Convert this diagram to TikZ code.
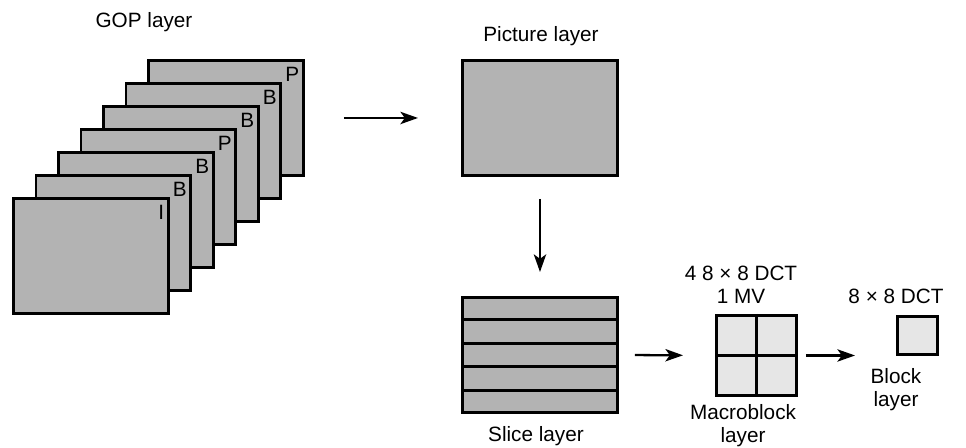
\documentclass[tikz,border=0pt]{standalone}
\usepackage{fontspec}
\setmainfont{Liberation Sans}
\usepackage{tikz}
\usetikzlibrary{arrows.meta, positioning, calc}
\definecolor{framegray}{RGB}{179, 179, 179}
\definecolor{mbgray}{RGB}{230, 230, 230}

\begin{document}
\begin{tikzpicture}[x=0.02cm, y=-0.02cm,
        every node/.style={font=\fontsize{11.8}{13.2}\selectfont},
        frame/.style={rectangle, draw=black, line width=1.7pt, fill=framegray, minimum width=3.1cm, minimum height=2.3cm, inner sep=0pt},
        mblock/.style={rectangle, draw=black, line width=1.7pt, fill=mbgray, inner sep=0pt},
        tag/.style={anchor=north east, inner sep=0pt, xshift=-0.11cm, yshift=-0.16cm},
        caption/.style={anchor=base, align=center, inner sep=0pt},
        arrow/.style={-{Stealth[length=10pt, width=7pt, inset=2.5pt]}, line width=1.3pt}
    ]
        \useasboundingbox (0,0) rectangle (966,448);
        % GOP stack, back frame first
        \foreach \i/\t in {6/P, 5/B, 4/B, 3/P, 2/B, 1/B, 0/I} {
            \node[frame, anchor=north west] (f\i) at (12+22.5*\i, 197-23*\i) {};
            \node[tag] (t\i) at (f\i.north east) {\t};
        }
        \node[caption] (gop) at (144,28) {GOP layer};

        \node[frame, anchor=north west] (pic) at (461,59) {};
        \node[caption] (piclbl) at (541,42) {Picture layer};

        \node[frame, anchor=north west] (slice) at (461,296) {};
        \foreach \k in {1,...,4}
            \draw[line width=1.7pt] ($(slice.north west)!\k/5!(slice.south west)$) -- ($(slice.north east)!\k/5!(slice.south east)$);
        \node[caption] (slicelbl) at (536,442) {Slice layer};

        \node[mblock, minimum size=1.6cm, anchor=north west] (mb) at (715,314) {};
        \draw[line width=1.7pt] (mb.north) -- (mb.south);
        \draw[line width=1.7pt] (mb.west) -- (mb.east);
        % multi-line captions sit on the baseline of their last line
        \node[caption] (mbtop) at (741,304) {4 8 × 8 DCT\\1 MV};
        \node[caption] (mblbl) at (743,443) {Macroblock\\layer};

        \node[mblock, minimum width=0.8cm, minimum height=0.77cm, anchor=north west] (blk) at (896,315) {};
        \node[caption] (blktop) at (896,304) {8 × 8 DCT};
        \node[caption] (blklbl) at (896,407) {Block\\layer};

        \draw[arrow, shorten <=0.78cm, shorten >=0.86cm] (f6.east) -- (pic.west);
        \draw[arrow, shorten <=0.44cm, shorten >=0.48cm] (pic.south) -- (slice.north);
        \draw[arrow, shorten <=0.32cm, shorten >=0.64cm] (slice.east) -- (mb.west);
        \draw[arrow, shorten <=0.16cm, shorten >=0.82cm] (mb.east) -- (mb.east -| blk.west);
    \end{tikzpicture}
\end{document}
